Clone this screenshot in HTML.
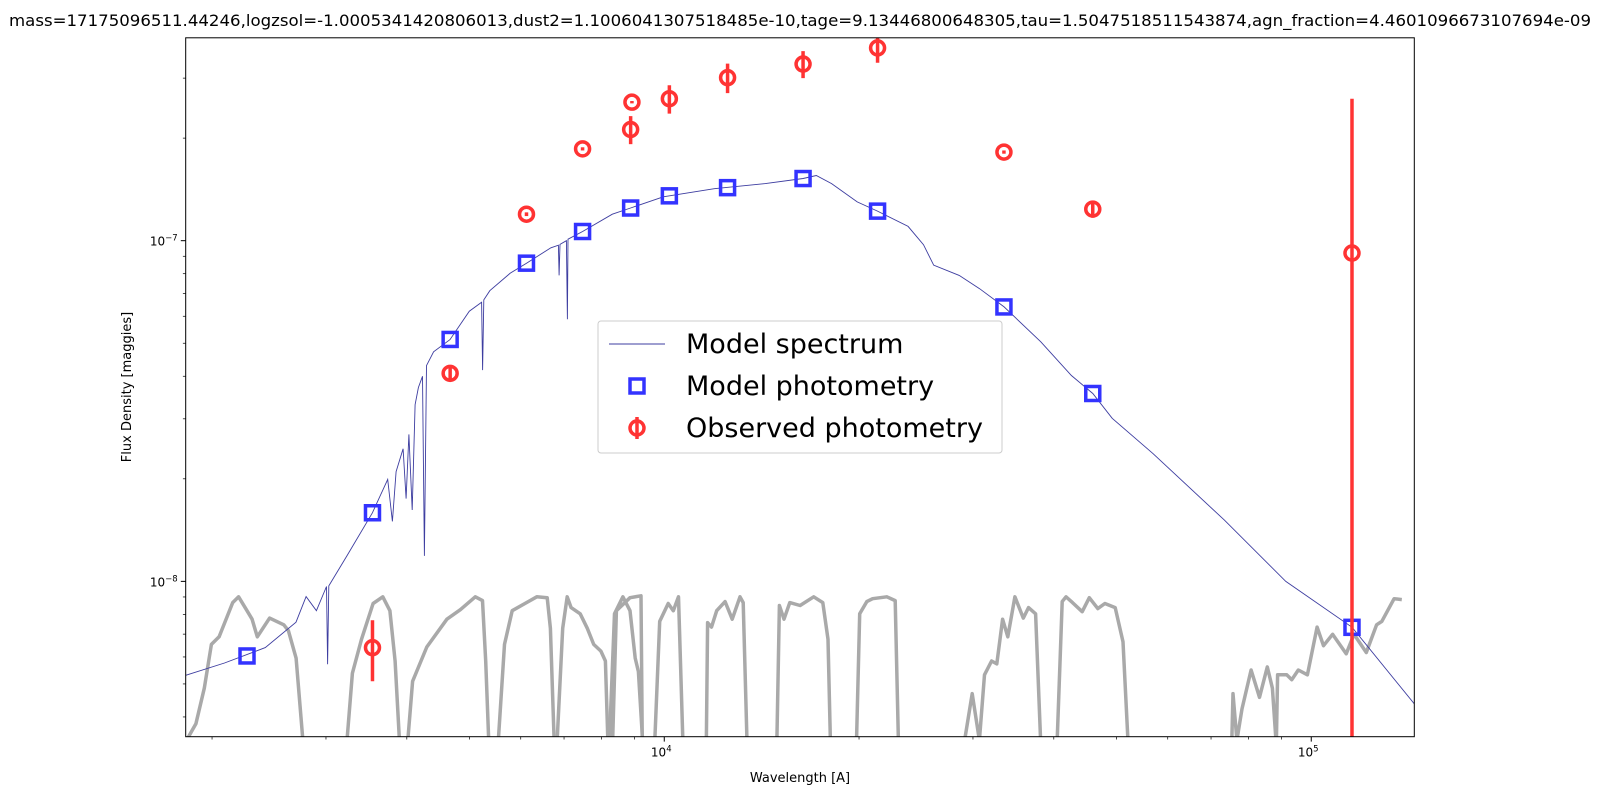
<!DOCTYPE html>
<html><head><meta charset="utf-8">
<style>
html,body{margin:0;padding:0;background:#fff;}
svg{display:block;font-family:"DejaVu Sans","Liberation Sans",sans-serif;}
</style></head>
<body>
<svg id="chart" width="1600" height="800" viewBox="0 0 1600 800" xmlns="http://www.w3.org/2000/svg">
<defs><clipPath id="plotclip"><rect x="185.7" y="37.8" width="1228.6" height="698.9"/></clipPath></defs>
<rect width="1600" height="800" fill="#fff"/>
<text x="800" y="26" font-size="16" text-anchor="middle" textLength="1582" lengthAdjust="spacingAndGlyphs">mass=17175096511.44246,logzsol=-1.0005341420806013,dust2=1.1006041307518485e-10,tage=9.13446800648305,tau=1.5047518511543874,agn_fraction=4.4601096673107694e-09</text>
<g id="filters" clip-path="url(#plotclip)"></g>
<g id="spec" clip-path="url(#plotclip)"></g>
<g id="pts" clip-path="url(#plotclip)"></g>
<rect x="185.7" y="37.8" width="1228.6" height="698.9" fill="none" stroke="#000" stroke-width="1"/>
<g id="axes"></g>
<text x="800" y="782" font-size="13" text-anchor="middle">Wavelength [A]</text>
<text x="0" y="0" font-size="13" text-anchor="middle" transform="translate(131,387) rotate(-90)">Flux Density [maggies]</text>
<g>
  <rect x="598" y="321" width="404" height="132" rx="3" fill="#fff" fill-opacity="0.8" stroke="#ccc" stroke-width="1"/>
  <line x1="609" y1="344" x2="665" y2="344" stroke="#3d3da0" stroke-width="1"/>
  <text x="686" y="353" font-size="27">Model spectrum</text>
  <rect x="630" y="379" width="14" height="14" fill="none" stroke="#3333ff" stroke-width="3.5"/>
  <text x="686" y="395" font-size="27">Model photometry</text>
  <line x1="637" y1="417" x2="637" y2="439" stroke="#ff3333" stroke-width="3.5"/>
  <circle cx="637" cy="428" r="7" fill="none" stroke="#ff3333" stroke-width="3.5"/>
  <text x="686" y="437" font-size="27">Observed photometry</text>
</g>
</svg>
<script>
// ---- data ----
const specWave = [1821,2091,2417,2696,2795,2900,3006,3017,3030,3232,3539,3737,3800,3850,3947,3990,4030,4078,4120,4168,4230,4259,4290,4400,4665,4996,5220,5239,5260,5375,5778,6125,6680,6860,6878,6900,7060,7083,7100,7478,8310,8872,9964,11950,14330,16390,17180,18140,19870,21360,23820,25160,26090,28570,30720,33510,38190,42590,45960,49250,56950,73430,91330,115650,144300];
const specFlux = [5.30e-9,5.76e-9,6.39e-9,7.59e-9,9.02e-9,8.2e-9,9.66e-9,5.71e-9,9.7e-9,1.188e-8,1.59e-8,1.992e-8,1.5e-8,2.1e-8,2.449e-8,1.75e-8,2.7e-8,1.62e-8,3.3e-8,3.706e-8,4.0e-8,1.188e-8,4.3e-8,4.72e-8,5.125e-8,6.21e-8,6.6e-8,4.17e-8,6.7e-8,7.13e-8,8.02e-8,8.59e-8,9.53e-8,9.7e-8,7.91e-8,9.75e-8,1.0e-7,5.88e-8,1.01e-7,1.064e-7,1.196e-7,1.247e-7,1.345e-7,1.421e-7,1.471e-7,1.522e-7,1.554e-7,1.471e-7,1.3e-7,1.221e-7,1.101e-7,9.73e-8,8.47e-8,7.91e-8,7.23e-8,6.39e-8,5.05e-8,4.02e-8,3.56e-8,3.01e-8,2.37e-8,1.512e-8,1.0e-8,7.33e-9,4.37e-9];
const modelWave = [2265,3540,4667,6124,7477,8872,10183,12527,16388,21364,33497,45950,115600];
const modelFlux = [6.04e-9,1.59e-8,5.13e-8,8.59e-8,1.064e-7,1.247e-7,1.354e-7,1.431e-7,1.522e-7,1.221e-7,6.39e-8,3.56e-8,7.33e-9];
const obsWave = [3540,4667,6124,7477,8872,8913,10183,12527,16388,21364,33497,45950,115600];
const obsFlux = [6.39e-9,4.08e-8,1.196e-7,1.86e-7,2.12e-7,2.55e-7,2.61e-7,3.01e-7,3.30e-7,3.68e-7,1.82e-7,1.238e-7,9.20e-8];
const obsErr = [1.3e-9,1.5e-9,1.5e-9,2e-9,2.0e-8,2e-9,2.5e-8,3.0e-8,3.0e-8,3.5e-8,2e-9,7e-9,1.69e-7];
// filter transmission curves: log10 wavelength and relative transmission
const filterLogWave = [
 [3.257,3.276,3.289,3.300,3.312,3.333,3.342,3.355,3.363,3.371,3.390,3.412,3.419,3.431,3.442],
 [3.509,3.518,3.532,3.550,3.565,3.576,3.584,3.591],
 [3.603,3.611,3.633,3.664,3.685,3.708,3.719,3.724,3.729],
 [3.743,3.753,3.765,3.787,3.803,3.819,3.824,3.830],
 [3.834,3.843,3.850,3.856,3.870,3.881,3.891,3.902,3.909,3.913],
 [3.915,3.923,3.936,3.947,3.955,3.960,3.967],
 [3.920,3.926,3.947,3.964,3.966],
 [3.985,3.993,4.006,4.014,4.022,4.029],
 [4.065,4.067,4.073,4.081,4.094,4.105,4.117,4.122,4.128],
 [4.174,4.178,4.185,4.194,4.210,4.231,4.245,4.253,4.257],
 [4.297,4.302,4.313,4.322,4.344,4.357,4.362],
 [4.463,4.476,4.487,4.495,4.506,4.514,4.523,4.531,4.542,4.555,4.563,4.574,4.582],
 [4.607,4.615,4.621,4.631,4.646,4.657,4.670,4.681,4.697,4.709,4.717],
 [4.877,4.879,4.885,4.893,4.907,4.920,4.932,4.940,4.946,4.948,4.962,4.970,4.980,4.994,5.009,5.019,5.033,5.054,5.066,5.085,5.101,5.109,5.128,5.140]
];
const filterTrans = [
 [0,0.09,0.27,0.56,0.62,0.93,0.99,0.85,0.77,0.62,0.78,0.72,0.67,0.46,0],
 [0,0.36,0.6,0.92,0.99,0.85,0.44,0],
 [0,0.31,0.54,0.77,0.86,0.99,0.95,0.44,0],
 [0,0.56,0.85,0.93,0.99,0.98,0.69,0],
 [0,0.69,0.99,0.88,0.82,0.69,0.56,0.51,0.44,0],
 [0,0.82,0.99,0.85,0.46,0.37,0],
 [0,0.85,0.98,1,0],
 [0,0.75,0.92,0.85,0.99,0],
 [0,0.74,0.70,0.85,0.94,0.77,0.99,0.93,0],
 [0,0.9,0.77,0.93,0.9,0.99,0.93,0.6,0],
 [0,0.82,0.94,0.97,0.99,0.95,0],
 [0,0.24,0.02,0.35,0.44,0.42,0.77,0.62,0.99,0.78,0.88,0.82,0],
 [0,0.94,0.99,0.93,0.84,0.98,0.87,0.92,0.88,0.58,0],
 [0,0.24,0.02,0.16,0.38,0.22,0.4,0.27,0,0.35,0.35,0.32,0.38,0.35,0.7,0.55,0.64,0.49,0.64,0.5,0.72,0.75,0.97,0.96]
];
const filterBase = 3.3e-9, filterTop = 9.07e-9;
const xMajorTicks = [1e4,1e5];
const xMajorLabels = ["4","5"];
const xMinorTicks = [2000,3000,4000,5000,6000,7000,8000,9000,20000,30000,40000,50000,60000,70000,80000,90000];
const yMajorTicks = [1e-8,1e-7];
const yMajorLabels = ["\u22128","\u22127"];
const yMinorTicks = [4e-9,5e-9,6e-9,7e-9,8e-9,9e-9,2e-8,3e-8,4e-8,5e-8,6e-8,7e-8,8e-8,9e-8,2e-7,3e-7];

// ---- scales ----
const X0=185.7, X1=1414.3, Y0=37.8, Y1=736.7;
const LXMIN=Math.log10(1821), LXMAX=Math.log10(144300), LYMIN=Math.log10(3.5e-9), LYMAX=Math.log10(3.94e-7);
function xs(w){return X0+(Math.log10(w)-LXMIN)/(LXMAX-LXMIN)*(X1-X0);}
function ys(f){ if(f<=0) return Y1+50; return Y1-(Math.log10(f)-LYMIN)/(LYMAX-LYMIN)*(Y1-Y0);}
const NS="http://www.w3.org/2000/svg";
function mk(tag,attrs,parent){const e=document.createElementNS(NS,tag);for(const k in attrs)e.setAttribute(k,attrs[k]);parent.appendChild(e);return e;}

// filters
const fg=document.getElementById('filters');
filterLogWave.forEach((lw,i)=>{
  const d=lw.map((l,j)=>(j?'L':'M')+xs(Math.pow(10,l)).toFixed(1)+','+ys(filterBase+filterTrans[i][j]*(filterTop-filterBase)).toFixed(1)).join(' ');
  const p=mk('path',{d:d,fill:'none',stroke:'#a9a9a9','stroke-width':3.5,'stroke-linejoin':'round'},fg);
  
  
});
// spectrum
const sg=document.getElementById('spec');
const sd=specWave.map((w,j)=>(j?'L':'M')+xs(w).toFixed(1)+','+ys(specFlux[j]).toFixed(1)).join(' ');
const sp=mk('path',{d:sd,fill:'none',stroke:'#3d3da0','stroke-width':0.9},sg);


// points
const pg=document.getElementById('pts');
modelWave.forEach((w,i)=>{
  const cx=xs(w), cy=ys(modelFlux[i]);
  const r=mk('rect',{x:cx-7,y:cy-7,width:14,height:14,fill:'none',stroke:'#3333ff','stroke-width':3.5},pg);
  
  
});
obsWave.forEach((w,i)=>{
  const cx=xs(w), cy=ys(obsFlux[i]);
  const lo=obsFlux[i]-obsErr[i], hi=obsFlux[i]+obsErr[i];
  const l=mk('line',{x1:cx,x2:cx,y1:ys(hi),y2:ys(lo),stroke:'#ff3333','stroke-width':3.5},pg);
  
  
  const c=mk('circle',{cx:cx,cy:cy,r:7,fill:'none',stroke:'#ff3333','stroke-width':3.5},pg);
  
  
});
// axes
const ag=document.getElementById('axes');
xMajorTicks.forEach((t,i)=>{
  const x=xs(t);
  const tk=mk('line',{x1:x,x2:x,y1:Y1,y2:Y1+4.9,stroke:'#000','stroke-width':1},ag);
  
  
  const tx=mk('text',{x:x-3,y:Y1+20,'font-size':12,'text-anchor':'middle'},ag);
  
  
  tx.textContent='10';
  const sup=mk('tspan',{dy:-5,'font-size':8.5},tx);
  sup.textContent=xMajorLabels[i];
});
xMinorTicks.forEach(t=>{
  const x=xs(t);
  const tk=mk('line',{x1:x,x2:x,y1:Y1,y2:Y1+2.8,stroke:'#000','stroke-width':0.7},ag);
  
  
});
yMajorTicks.forEach((t,i)=>{
  const y=ys(t);
  const tk=mk('line',{x1:X0-4.9,x2:X0,y1:y,y2:y,stroke:'#000','stroke-width':1},ag);
  
  
  const tx=mk('text',{x:X0-8,y:y+5,'font-size':12,'text-anchor':'end'},ag);
  
  
  tx.textContent='10';
  const sup=mk('tspan',{dy:-5,'font-size':8.5},tx);
  sup.textContent=yMajorLabels[i];
});
yMinorTicks.forEach(t=>{
  const y=ys(t);
  const tk=mk('line',{x1:X0-2.8,x2:X0,y1:y,y2:y,stroke:'#000','stroke-width':0.7},ag);
  
  
});
</script>
</body></html>
